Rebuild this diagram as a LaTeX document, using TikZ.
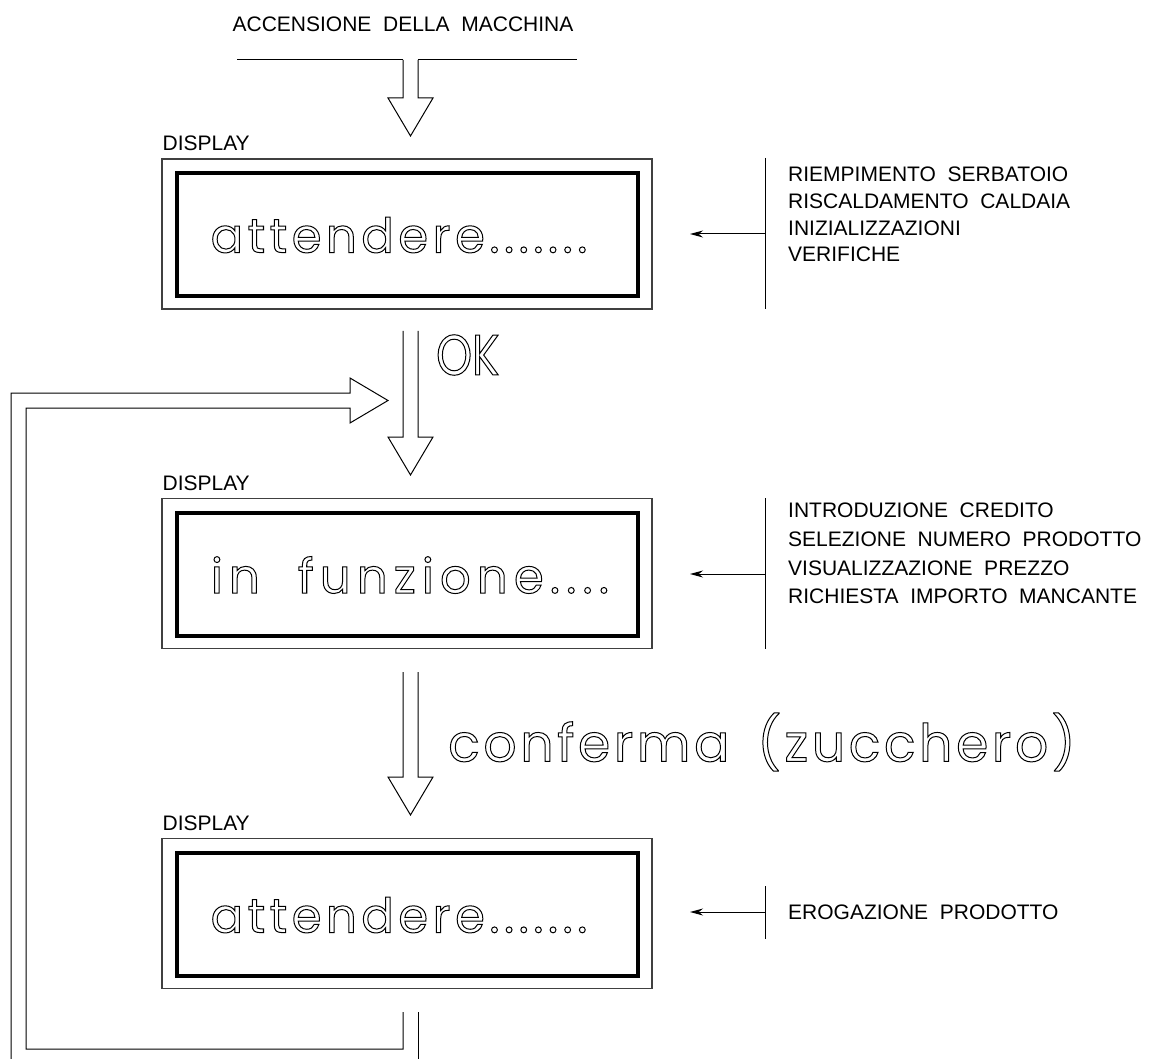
\documentclass[tikz,border=0pt]{standalone}
\usepackage{fontspec}
\usetikzlibrary{arrows.meta,positioning}
\newfontfamily\cadfont{Liberation Sans}[WordSpace=2]
\newfontfamily\lcdfont{Poppins}[LetterSpace=9.5, WordSpace=4]
\newfontfamily\lcdwidefont{Poppins}[LetterSpace=13, WordSpace=2]
\newfontfamily\confont{Poppins}[LetterSpace=7, WordSpace=1.6]
\newfontfamily\okfont{Poppins}[FakeStretch=0.8]
% outlined glyphs (stroke only)
\newcommand\hollow[1]{\special{pdf:literal direct 1 Tr 1 w}#1\special{pdf:literal direct 0 Tr 0.4 w}}
\tikzset{
  pics/hollowdown/.style={code={
    \draw[flow] (-7.5,-38-#1) -- (-7.5,-38) -- (-22.5,-38) -- (0,0) -- (22.5,-38) -- (7.5,-38) -- (7.5,-38-#1);
  }}
}
\begin{document}
\begin{tikzpicture}[x=1pt, y=-1pt,
    flow/.style={line width=1pt, line join=miter},
    cad/.style={font=\cadfont\fontsize{21}{25}\selectfont, inner sep=0pt},
    items/.style={font=\cadfont\fontsize{21}{#1}\selectfont, inner sep=0pt, align=left, anchor=north west},
    outerbox/.style={draw=black!75, line width=1.2pt, minimum width=490pt, minimum height=150pt, inner sep=0pt},
    lcdbox/.style={draw, line width=4pt, minimum width=461pt, minimum height=123pt, inner sep=0pt},
    lcdtext/.style={inner sep=0pt, font=\lcdfont\fontsize{48}{50}\selectfont},
    feed/.style={line width=1pt, -{Stealth[length=13pt, width=7pt]}}]
  \useasboundingbox (0,0) rectangle (1154,1059);

  % power on
  \node[cad] (start) at (403,24.5) {ACCENSIONE DELLA MACCHINA};
  \draw[flow] (237,60) -- (403,60);
  \draw[flow] (418,60) -- (577,60);
  \pic at (410.5,136) {hollowdown=38};

  % display 1
  \node[outerbox] (d1) at (407,234) {};
  \node[lcdbox] (t1) at (407.5,234.5) {};
  \node[lcdtext] (w1) at (399,235) {\hollow{attendere.......}};
  \node[cad, anchor=south west] (l1) at ([xshift=1pt, yshift=7pt]d1.north west) {DISPLAY};
  \node[items=26.7] (list1) at (788,167) {RIEMPIMENTO SERBATOIO\\RISCALDAMENTO CALDAIA\\INIZIALIZZAZIONI\\VERIFICHE};
  \coordinate (bar1) at (765,234);
  \coordinate (in1) at (690,234);
  \draw[line width=1pt] (765,158) -- (765,309);
  \draw[feed] (bar1) -- (in1);

  % ok
  \pic at (410.5,475) {hollowdown=106};
  \node[inner sep=0pt, font=\okfont\fontsize{57}{57}\selectfont, anchor=west] (ok) at (436,355) {\hollow{OK}};

  % display 2
  \node[outerbox] (d2) at (407,573.5) {};
  \node[lcdbox] (t2) at (407.5,574.5) {};
  \node[lcdtext, font=\lcdwidefont\fontsize{48}{50}\selectfont] (w2) at (410,575) {\hollow{in funzione....}};
  \node[cad, anchor=south west] (l2) at ([xshift=1pt, yshift=7pt]d2.north west) {DISPLAY};
  \node[items=28.7] (list2) at (788,503) {INTRODUZIONE CREDITO\\SELEZIONE NUMERO PRODOTTO\\VISUALIZZAZIONE PREZZO\\RICHIESTA IMPORTO MANCANTE};
  \coordinate (bar2) at (765,574);
  \coordinate (in2) at (690,574);
  \draw[line width=1pt] (765,498) -- (765,649);
  \draw[feed] (bar2) -- (in2);

  % confirm
  \pic at (410.5,815) {hollowdown=105};
  \node[inner sep=0pt, font=\confont\fontsize{52}{52}\selectfont, anchor=west] (conf) at (448,742) {\hollow{conferma (zucchero)}};

  % display 3
  \node[outerbox] (d3) at (407,913.5) {};
  \node[lcdbox] (t3) at (407.5,914.5) {};
  \node[lcdtext] (w3) at (399,915) {\hollow{attendere.......}};
  \node[cad, anchor=south west] (l3) at ([xshift=1pt, yshift=7pt]d3.north west) {DISPLAY};
  \node[items=28] (list3) at (788,905) {EROGAZIONE PRODOTTO};
  \coordinate (bar3) at (765,912);
  \coordinate (in3) at (690,912);
  \draw[line width=1pt] (765,886) -- (765,939);
  \draw[feed] (bar3) -- (in3);

  % return loop
  \draw[flow] (11,1059) -- (11,393) -- (350,393) -- (350,378) -- (388,400.5) -- (350,423) -- (350,408)
    -- (26,408) -- (26,1049) -- (403,1049) -- (403,1012);
  \draw[flow] (418,1012) -- (418,1059);
\end{tikzpicture}
\end{document}
